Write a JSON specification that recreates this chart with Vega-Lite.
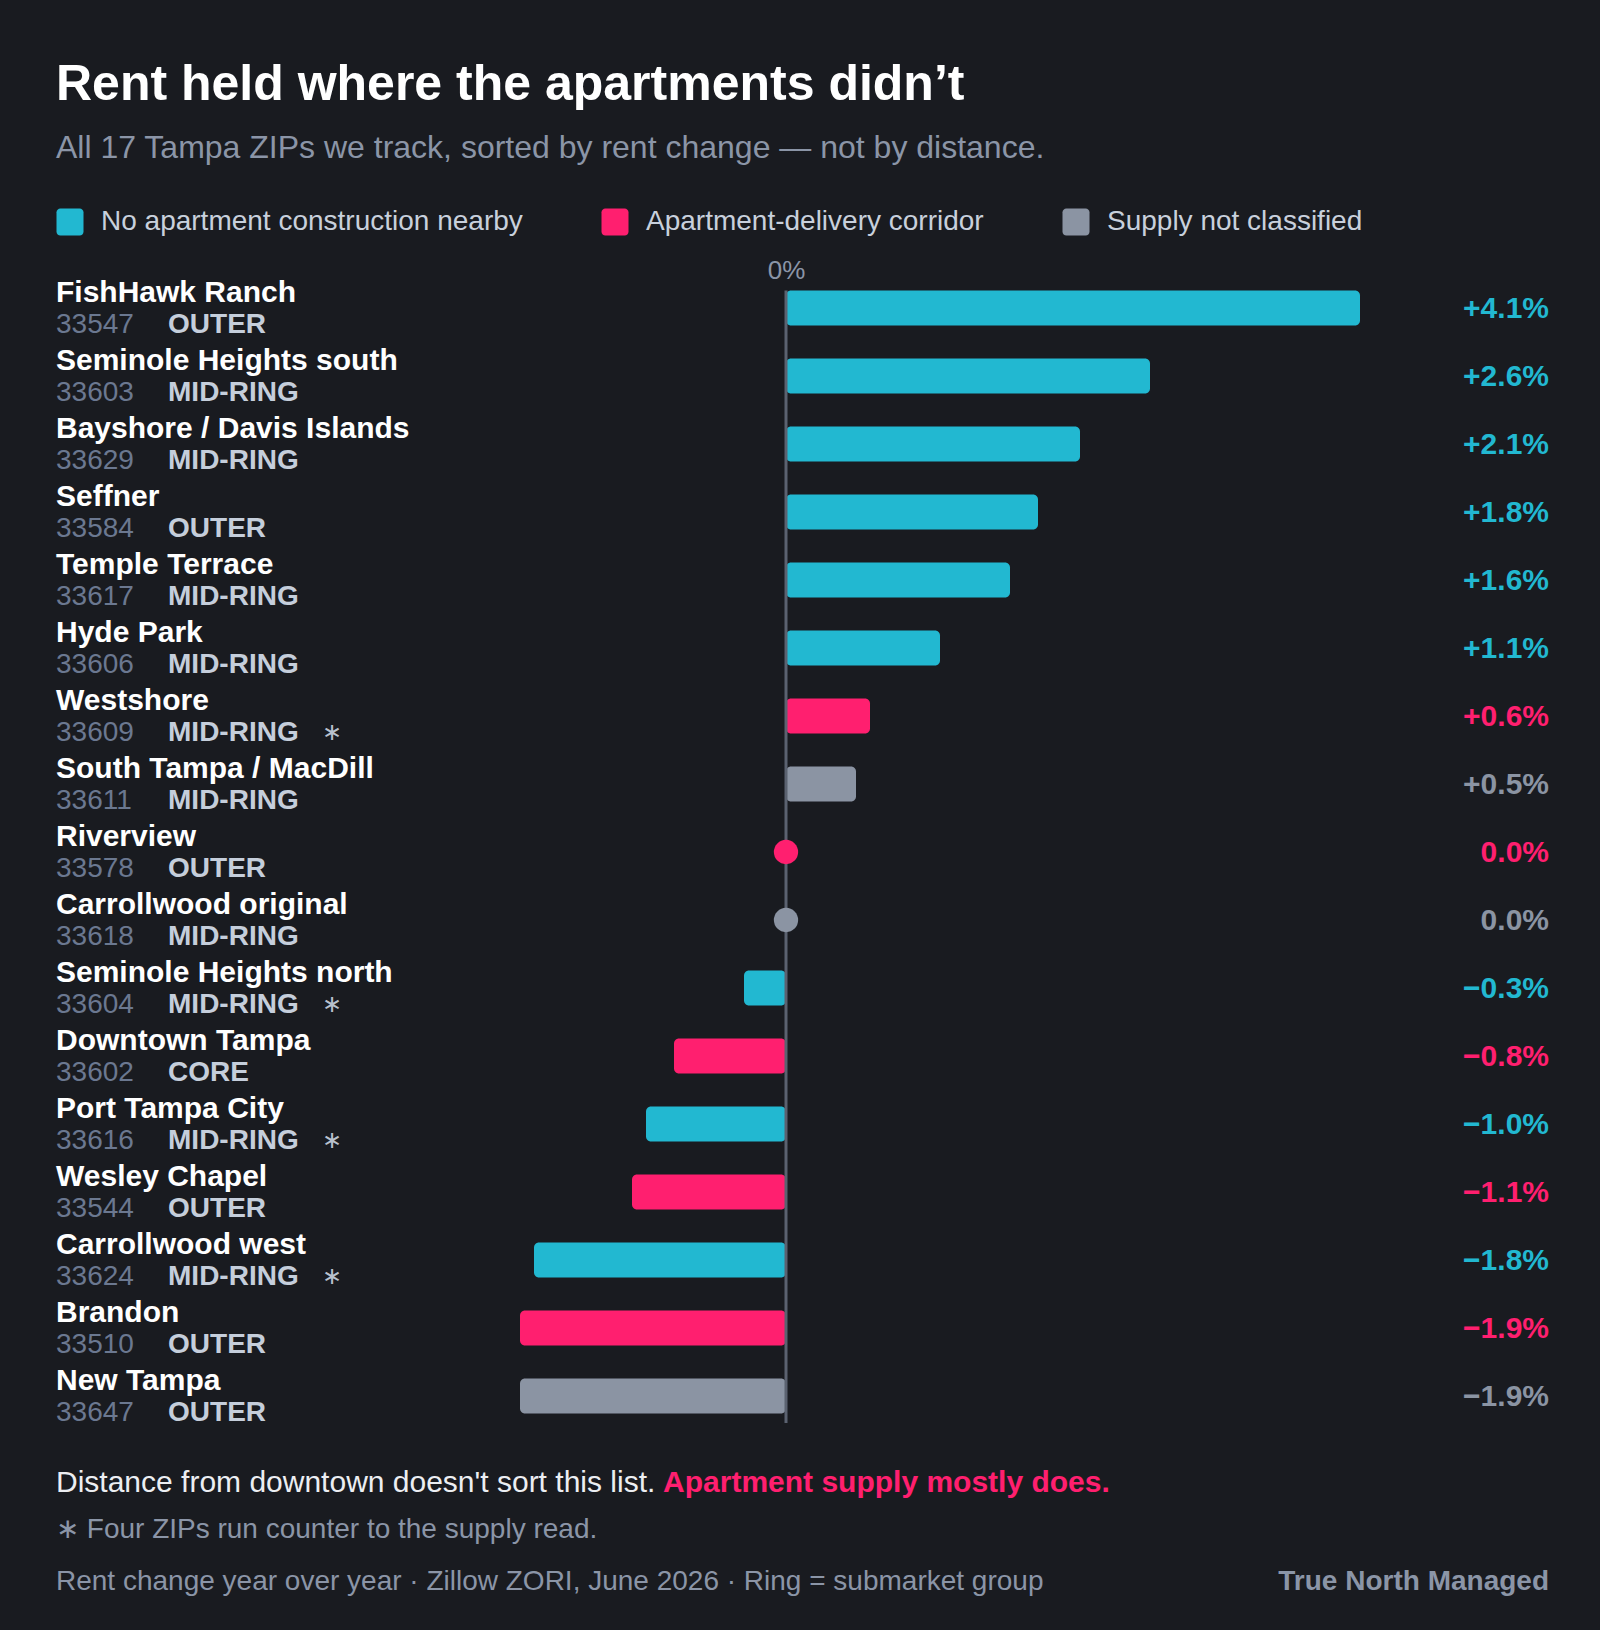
{
  "$schema": "https://vega.github.io/schema/vega-lite/v6.json",
  "background": "#191b20",
  "padding": {"left": 56, "right": 51, "top": 60, "bottom": 0},
  "title": {
    "text": "Rent held where the apartments didn’t",
    "subtitle": "All 17 Tampa ZIPs we track, sorted by rent change — not by distance.",
    "anchor": "start",
    "font": "Liberation Sans",
    "fontSize": 50,
    "fontWeight": "bold",
    "color": "#ffffff",
    "subtitleFont": "Liberation Sans",
    "subtitleFontSize": 32,
    "subtitleColor": "#8b95a7",
    "subtitlePadding": 23,
    "offset": 44
  },
  "datasets": {
    "rows": [
      {"name": "FishHawk Ranch", "zip": "33547", "ring": "OUTER", "change": 4.1, "supply": "none", "counter": false},
      {"name": "Seminole Heights south", "zip": "33603", "ring": "MID-RING", "change": 2.6, "supply": "none", "counter": false},
      {"name": "Bayshore / Davis Islands", "zip": "33629", "ring": "MID-RING", "change": 2.1, "supply": "none", "counter": false},
      {"name": "Seffner", "zip": "33584", "ring": "OUTER", "change": 1.8, "supply": "none", "counter": false},
      {"name": "Temple Terrace", "zip": "33617", "ring": "MID-RING", "change": 1.6, "supply": "none", "counter": false},
      {"name": "Hyde Park", "zip": "33606", "ring": "MID-RING", "change": 1.1, "supply": "none", "counter": false},
      {"name": "Westshore", "zip": "33609", "ring": "MID-RING", "change": 0.6, "supply": "corridor", "counter": true},
      {"name": "South Tampa / MacDill", "zip": "33611", "ring": "MID-RING", "change": 0.5, "supply": "unclassified", "counter": false},
      {"name": "Riverview", "zip": "33578", "ring": "OUTER", "change": 0.0, "supply": "corridor", "counter": false},
      {"name": "Carrollwood original", "zip": "33618", "ring": "MID-RING", "change": 0.0, "supply": "unclassified", "counter": false},
      {"name": "Seminole Heights north", "zip": "33604", "ring": "MID-RING", "change": -0.3, "supply": "none", "counter": true},
      {"name": "Downtown Tampa", "zip": "33602", "ring": "CORE", "change": -0.8, "supply": "corridor", "counter": false},
      {"name": "Port Tampa City", "zip": "33616", "ring": "MID-RING", "change": -1.0, "supply": "none", "counter": true},
      {"name": "Wesley Chapel", "zip": "33544", "ring": "OUTER", "change": -1.1, "supply": "corridor", "counter": false},
      {"name": "Carrollwood west", "zip": "33624", "ring": "MID-RING", "change": -1.8, "supply": "none", "counter": true},
      {"name": "Brandon", "zip": "33510", "ring": "OUTER", "change": -1.9, "supply": "corridor", "counter": false},
      {"name": "New Tampa", "zip": "33647", "ring": "OUTER", "change": -1.9, "supply": "unclassified", "counter": false}
    ],
    "notes": [
      {"line": "a", "text": "Distance from downtown doesn't sort this list.", "accent": "Apartment supply mostly does."},
      {"line": "b", "text": "∗ Four ZIPs run counter to the supply read."},
      {"line": "c", "text": "Rent change year over year · Zillow ZORI, June 2026 · Ring = submarket group", "brand": "True North Managed"}
    ]
  },
  "spacing": 0,
  "vconcat": [
    {
      "width": 1493,
      "height": 1156,
      "data": {"name": "rows"},
      "encoding": {
        "y": {
          "field": "name",
          "type": "nominal",
          "scale": {
            "domain": ["FishHawk Ranch", "Seminole Heights south", "Bayshore / Davis Islands", "Seffner", "Temple Terrace", "Hyde Park", "Westshore", "South Tampa / MacDill", "Riverview", "Carrollwood original", "Seminole Heights north", "Downtown Tampa", "Port Tampa City", "Wesley Chapel", "Carrollwood west", "Brandon", "New Tampa"],
            "paddingInner": 0.485,
            "paddingOuter": 0.2425
          },
          "axis": null
        }
      },
      "layer": [
        {
          "transform": [{"filter": "datum.change != 0"}],
          "mark": {"type": "bar", "cornerRadius": 5},
          "encoding": {
            "x": {
              "field": "change",
              "type": "quantitative",
              "scale": {"domain": [-5.2143, 5.45], "nice": false, "zero": false},
              "axis": {
                "orient": "top",
                "values": [0],
                "labelExpr": "'0%'",
                "domain": false,
                "ticks": false,
                "tickSize": 0,
                "grid": false,
                "title": null,
                "labelFont": "Liberation Sans",
                "labelFontSize": 26,
                "labelColor": "#8b95a7",
                "labelPadding": -4,
                "labelBaseline": "alphabetic"
              }
            },
            "x2": {"datum": 0},
            "color": {
              "field": "supply",
              "type": "nominal",
              "scale": {"domain": ["none", "corridor", "unclassified"], "range": ["#22b8d1", "#ff1f6f", "#8b94a3"]},
              "legend": {
                "orient": "none",
                "legendX": 0,
                "legendY": -66,
                "direction": "horizontal",
                "title": null,
                "padding": 0,
                "symbolType": "M-0.714,-1H0.714A0.286,0.286 0 0 1 1,-0.714V0.714A0.286,0.286 0 0 1 0.714,1H-0.714A0.286,0.286 0 0 1 -1,0.714V-0.714A0.286,0.286 0 0 1 -0.714,-1Z",
                "symbolSize": 729,
                "symbolStrokeWidth": 0,
                "symbolOpacity": 1,
                "labelFont": "Liberation Sans",
                "labelFontSize": 28,
                "labelColor": "#c8d0dc",
                "labelOffset": 17,
                "columnPadding": 78,
                "labelLimit": 1000,
                "labelExpr": "datum.value == 'none' ? 'No apartment construction nearby' : datum.value == 'corridor' ? 'Apartment-delivery corridor' : 'Supply not classified'"
              }
            }
          }
        },
        {
          "data": {"values": [{}]},
          "mark": {"type": "rule", "color": "#5b6270", "strokeWidth": 3, "y2Offset": 27},
          "encoding": {
            "x": {"datum": 0, "type": "quantitative"},
            "y": {"datum": "FishHawk Ranch", "type": "nominal", "bandPosition": 0},
            "y2": {"datum": "New Tampa"}
          }
        },
        {
          "transform": [{"filter": "datum.change == 0"}],
          "mark": {"type": "circle", "size": 590, "opacity": 1},
          "encoding": {
            "x": {"field": "change", "type": "quantitative"},
            "color": {"field": "supply", "type": "nominal"}
          }
        },
        {
          "mark": {"type": "text", "align": "left", "baseline": "alphabetic", "dy": -6.5, "font": "Liberation Sans", "fontSize": 30, "fontWeight": "bold", "color": "#ffffff"},
          "encoding": {
            "x": {"datum": -5.2143, "type": "quantitative"},
            "text": {"field": "name"}
          }
        },
        {
          "mark": {"type": "text", "align": "left", "baseline": "alphabetic", "dy": 25, "font": "Liberation Sans", "fontSize": 28, "color": "#6b7890"},
          "encoding": {
            "x": {"datum": -5.2143, "type": "quantitative"},
            "text": {"field": "zip"}
          }
        },
        {
          "mark": {"type": "text", "align": "left", "baseline": "alphabetic", "dy": 25, "font": "Liberation Sans", "fontSize": 28, "fontWeight": "bold", "color": "#c5cedb"},
          "encoding": {
            "x": {"datum": -4.414, "type": "quantitative"},
            "text": {"field": "ring"}
          }
        },
        {
          "transform": [{"filter": "datum.counter"}],
          "mark": {"type": "text", "align": "center", "baseline": "alphabetic", "dy": 24, "font": "DejaVu Sans", "fontSize": 24, "color": "#b9c1cd", "text": "∗"},
          "encoding": {
            "x": {"datum": -3.243, "type": "quantitative"}
          }
        },
        {
          "mark": {
            "type": "text",
            "align": "right",
            "baseline": "alphabetic",
            "dy": 10,
            "font": "Liberation Sans",
            "fontSize": 30,
            "fontWeight": "bold",
            "text": {"expr": "(datum.change > 0 ? '+' : '') + format(datum.change, '.1f') + '%'"}
          },
          "encoding": {
            "x": {"datum": 5.45, "type": "quantitative"},
            "color": {"field": "supply", "type": "nominal"}
          }
        }
      ]
    },
    {
      "width": 1493,
      "height": 200,
      "data": {"name": "notes"},
      "encoding": {
        "y": {
          "field": "line",
          "type": "ordinal",
          "scale": {"type": "point", "domain": ["a", "b", "c"], "range": [62, 160], "padding": 0},
          "axis": null
        }
      },
      "layer": [
        {
          "transform": [{"filter": "datum.line == 'a'"}],
          "mark": {"type": "text", "align": "left", "baseline": "alphabetic", "font": "Liberation Sans", "fontSize": 30, "color": "#eceef2"},
          "encoding": {
            "x": {"datum": 0, "type": "quantitative", "scale": {"domain": [0, 1], "nice": false, "zero": false}, "axis": null},
            "text": {"field": "text"}
          }
        },
        {
          "transform": [{"filter": "datum.line == 'a'"}],
          "mark": {"type": "text", "align": "left", "baseline": "alphabetic", "font": "Liberation Sans", "fontSize": 30, "fontWeight": "bold", "color": "#ff1f6f"},
          "encoding": {
            "x": {"datum": 0.4066, "type": "quantitative"},
            "text": {"field": "accent"}
          }
        },
        {
          "transform": [{"filter": "datum.line == 'b'"}],
          "mark": {"type": "text", "align": "left", "baseline": "alphabetic", "dy": -3, "font": "Liberation Sans", "fontSize": 28, "color": "#8b95a7"},
          "encoding": {
            "x": {"datum": 0, "type": "quantitative"},
            "text": {"field": "text"}
          }
        },
        {
          "transform": [{"filter": "datum.line == 'c'"}],
          "mark": {"type": "text", "align": "left", "baseline": "alphabetic", "font": "Liberation Sans", "fontSize": 28, "color": "#8b95a7"},
          "encoding": {
            "x": {"datum": 0, "type": "quantitative"},
            "text": {"field": "text"}
          }
        },
        {
          "transform": [{"filter": "datum.line == 'c'"}],
          "mark": {"type": "text", "align": "right", "baseline": "alphabetic", "font": "Liberation Sans", "fontSize": 28, "fontWeight": "bold", "color": "#8b95a7"},
          "encoding": {
            "x": {"datum": 1, "type": "quantitative"},
            "text": {"field": "brand"}
          }
        }
      ]
    }
  ],
  "config": {
    "view": {"stroke": null},
    "font": "Liberation Sans"
  }
}
